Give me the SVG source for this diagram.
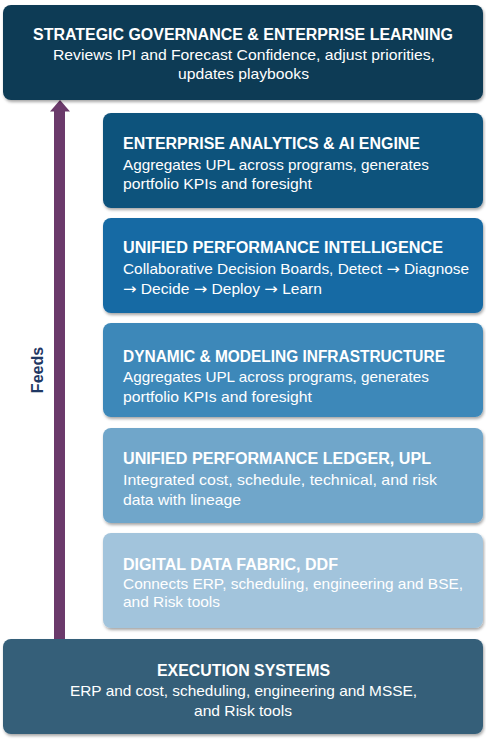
<svg xmlns="http://www.w3.org/2000/svg" width="486" height="740" viewBox="0 0 486 740">
  <defs>
    <filter id="sh" x="-5%" y="-10%" width="110%" height="130%">
      <feDropShadow dx="1" dy="2" stdDeviation="1.5" flood-color="#000" flood-opacity="0.35"/>
    </filter>
  </defs>
  <style>
    .box { filter: url(#sh); }
    .t { font-family: "Liberation Sans", Arial, sans-serif; font-weight: bold; font-size: 16px; fill: #ffffff; }
    .d { font-family: "Liberation Sans", Arial, sans-serif; font-size: 14.5px; fill: #ffffff; }
    .c { text-anchor: middle; }
    .ar { font-family: "DejaVu Sans", sans-serif; font-size: 15px; }
    .feeds { font-family: "Liberation Sans", Arial, sans-serif; font-weight: bold; font-size: 16px; fill: #1f3864; text-anchor: middle; }
  </style>
  <rect width="486" height="740" fill="#ffffff"/>

  <g id="connectors">
    <rect x="54" y="110" width="11" height="530" fill="#6b3a6b"/>
    <polygon points="60,100 70,111.5 50,111.5" fill="#6b3a6b"/>
    <text class="feeds" transform="translate(43,370) rotate(-90)">Feeds</text>
  </g>

  <g id="strategic-governance">
    <rect class="box" x="3" y="5" width="480" height="95" rx="8" fill="#0d3a55"/>
    <text class="t c" x="243" y="40" textLength="420" lengthAdjust="spacingAndGlyphs">STRATEGIC GOVERNANCE &amp; ENTERPRISE LEARNING</text>
    <text class="d c" x="244" y="59.5" textLength="382" lengthAdjust="spacingAndGlyphs">Reviews IPI and Forecast Confidence, adjust priorities,</text>
    <text class="d c" x="243.5" y="79" textLength="131" lengthAdjust="spacingAndGlyphs">updates playbooks</text>
  </g>

  <g id="analytics-ai">
    <rect class="box" x="103" y="113" width="380" height="95" rx="8" fill="#0f527c"/>
    <text class="t" x="123" y="149" textLength="297" lengthAdjust="spacingAndGlyphs">ENTERPRISE ANALYTICS &amp; AI ENGINE</text>
    <text class="d" x="123" y="169.5" textLength="306" lengthAdjust="spacingAndGlyphs">Aggregates UPL across programs, generates</text>
    <text class="d" x="123" y="189" textLength="189" lengthAdjust="spacingAndGlyphs">portfolio KPIs and foresight</text>
  </g>

  <g id="unified-performance-intelligence">
    <rect class="box" x="103" y="218" width="380" height="95" rx="8" fill="#176aa4"/>
    <text class="t" x="123" y="252.5" textLength="320" lengthAdjust="spacingAndGlyphs">UNIFIED PERFORMANCE INTELLIGENCE</text>
    <text class="d" x="123" y="273.5" textLength="346" lengthAdjust="spacingAndGlyphs">Collaborative Decision Boards, Detect <tspan class="ar">→</tspan> Diagnose</text>
    <text class="d" x="123" y="293.5" textLength="199" lengthAdjust="spacingAndGlyphs"><tspan class="ar">→</tspan> Decide <tspan class="ar">→</tspan> Deploy <tspan class="ar">→</tspan> Learn</text>
  </g>

  <g id="dynamic-modeling">
    <rect class="box" x="103" y="323" width="380" height="94" rx="8" fill="#3c88b9"/>
    <text class="t" x="123" y="361.5" textLength="322" lengthAdjust="spacingAndGlyphs">DYNAMIC &amp; MODELING INFRASTRUCTURE</text>
    <text class="d" x="123" y="382" textLength="306" lengthAdjust="spacingAndGlyphs">Aggregates UPL across programs, generates</text>
    <text class="d" x="123" y="401.5" textLength="189" lengthAdjust="spacingAndGlyphs">portfolio KPIs and foresight</text>
  </g>

  <g id="unified-performance-ledger">
    <rect class="box" x="103" y="428" width="380" height="95" rx="8" fill="#70a6ca"/>
    <text class="t" x="123" y="464" textLength="308" lengthAdjust="spacingAndGlyphs">UNIFIED PERFORMANCE LEDGER, UPL</text>
    <text class="d" x="123" y="485" textLength="314" lengthAdjust="spacingAndGlyphs">Integrated cost, schedule, technical, and risk</text>
    <text class="d" x="123" y="504.5" textLength="118" lengthAdjust="spacingAndGlyphs">data with lineage</text>
  </g>

  <g id="digital-data-fabric">
    <rect class="box" x="103" y="533" width="380" height="95" rx="8" fill="#a2c4dc"/>
    <text class="t" x="123" y="570" textLength="215" lengthAdjust="spacingAndGlyphs">DIGITAL DATA FABRIC, DDF</text>
    <text class="d" x="123" y="588.5" textLength="340" lengthAdjust="spacingAndGlyphs">Connects ERP, scheduling, engineering and BSE,</text>
    <text class="d" x="123" y="606.5" textLength="97" lengthAdjust="spacingAndGlyphs">and Risk tools</text>
  </g>

  <g id="execution-systems">
    <rect class="box" x="3" y="639" width="480" height="95" rx="8" fill="#345f79"/>
    <text class="t c" x="243.5" y="676" textLength="173" lengthAdjust="spacingAndGlyphs">EXECUTION SYSTEMS</text>
    <text class="d c" x="243.5" y="696" textLength="347" lengthAdjust="spacingAndGlyphs">ERP and cost, scheduling, engineering and MSSE,</text>
    <text class="d c" x="243" y="715.5" textLength="98" lengthAdjust="spacingAndGlyphs">and Risk tools</text>
  </g>
</svg>
